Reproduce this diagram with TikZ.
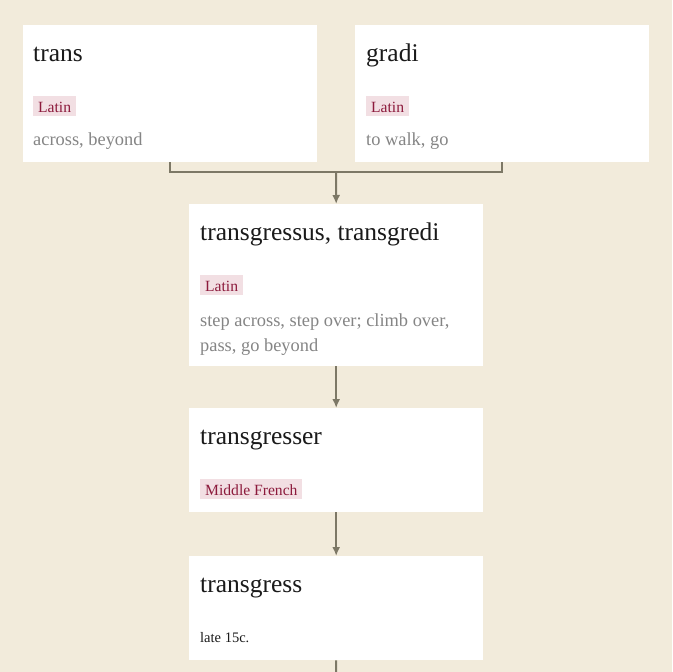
\documentclass[tikz,border=0pt]{standalone}
\usepackage{fontspec}
\setmainfont{Liberation Serif}
\usetikzlibrary{arrows.meta}
\definecolor{paper}{HTML}{F2EBDB}
\definecolor{wire}{HTML}{7D7866}
\definecolor{tagbg}{HTML}{F2DFE3}
\definecolor{tagred}{HTML}{8C1A3C}
\definecolor{gloss}{HTML}{858585}
\definecolor{ink}{HTML}{1A1A1A}
\tikzset{
  box/.style={fill=white, anchor=north west, inner sep=0pt, minimum width=294pt},
  word/.style={anchor=base west, inner sep=0pt, text=ink, font=\fontsize{25.5}{28}\selectfont},
  lang/.style={anchor=base west, fill=tagbg, text=tagred, inner xsep=5pt, inner ysep=0pt,
    text height=16pt, text depth=4pt, font=\fontsize{15.6}{17}\selectfont},
  mean/.style={anchor=base west, inner sep=0pt, text=gloss, align=left,
    font=\fontsize{18.4}{25}\selectfont},
  date/.style={anchor=base west, inner sep=0pt, text=ink, font=\fontsize{14.5}{16}\selectfont},
  conn/.style={draw=wire, line width=2pt}
}
\begin{document}
\begin{tikzpicture}[x=1pt, y=-1pt, >={Latex[length=9pt,width=8pt]}]
\fill[paper] (0,0) rectangle (672,672);
\useasboundingbox (0,0) rectangle (672,672);

% roots
\node[box, minimum height=137pt] (trans) at (23,25) {};
\node[word] (trans-w) at (33,61) {trans};
\node[lang] (trans-l) at (33,112) {Latin};
\node[mean] (trans-m) at (33,145) {across, beyond};

\node[box, minimum height=137pt] (gradi) at (355,25) {};
\node[word] (gradi-w) at (366,61) {gradi};
\node[lang] (gradi-l) at (366,112) {Latin};
\node[mean] (gradi-m) at (366,145) {to walk, go};

% latin verb
\node[box, minimum height=162pt] (transgredi) at (189,204) {};
\node[word] (transgredi-w) at (200,240) {transgressus, transgredi};
\node[lang] (transgredi-l) at (200,291) {Latin};
\node[mean] (transgredi-m) at (200,351) {step across, step over; climb over,\\pass, go beyond};

% french
\node[box, minimum height=104pt] (transgresser) at (189,408) {};
\node[word] (transgresser-w) at (200,444) {transgresser};
\node[lang] (transgresser-l) at (200,495) {Middle French};

% english
\node[box, minimum height=104pt] (transgress) at (189,556) {};
\node[word] (transgress-w) at (200,592) {transgress};
\node[date] (transgress-d) at (200,642) {late 15c.};

\coordinate (fork) at (336,172);
\coordinate (tail) at (336,672);

\draw[conn] (trans.south) |- (fork) -| (gradi.south);
\draw[conn, ->] (fork) -- (transgredi.north);
\draw[conn, ->] (transgredi.south) -- (transgresser.north);
\draw[conn, ->] (transgresser.south) -- (transgress.north);
\draw[conn] (transgress.south) -- (tail);
\end{tikzpicture}
\end{document}
